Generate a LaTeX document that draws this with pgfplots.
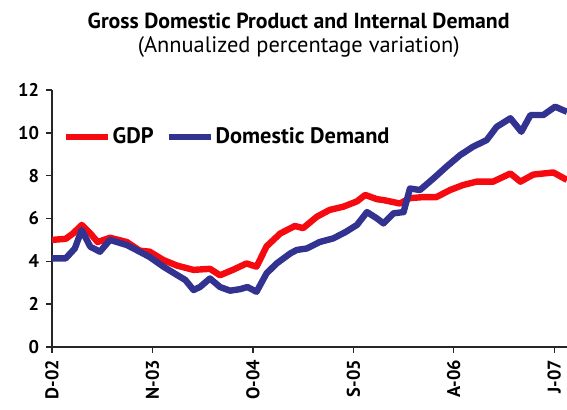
\documentclass[border=0pt]{standalone}
\usepackage{fontspec}
\setmainfont{PT Sans}
\usepackage{pgfplots}
\pgfplotsset{compat=1.18}

\definecolor{gdpred}{RGB}{245,10,15}
\definecolor{ddblue}{RGB}{50,50,145}

\begin{document}
\begin{tikzpicture}
\begin{axis}[
  scale only axis,
  width=257.5pt, height=128.5pt,
  xmin=0, xmax=56.4, ymin=0, ymax=12,
  axis lines*=left,
  axis line style={line width=0.7pt, black!85},
  tick align=outside,
  major tick length=3pt,
  tick style={line width=0.7pt, black!85},
  ytick={0,2,...,12},
  xtick={0,11,22,33,44,55},
  xticklabels={D-02,N-03,O-04,S-05,A-06,J-07},
  /pgf/number format/assume math mode=true,
  yticklabel style={font=\fontsize{9.2}{10}\selectfont\bfseries},
  xticklabel style={font=\fontsize{9.2}{10}\selectfont\bfseries, rotate=90, anchor=east},
  clip=false,
  legend style={draw=none, fill=none, at={(rel axis cs:0.02,0.817)}, anchor=west,
    font=\fontsize{11.2}{12}\selectfont\bfseries, inner sep=0pt,
    nodes={inner sep=1pt},
    /tikz/every even column/.append style={column sep=5pt}},
  legend columns=2,
  legend image code/.code={\draw[#1, line width=3pt] (0pt,0pt) -- (21pt,0pt);},
]
\addplot[gdpred, line width=3.2pt, line join=round] coordinates {
(0,5.0) (1.5,5.05) (2.3,5.3) (3.25,5.7) (4.2,5.3) (5,4.9) (6.35,5.1) (7.3,5.0)
(8.2,4.9) (9.6,4.5) (10.7,4.45) (12.2,4.06) (13.7,3.8) (15.5,3.6) (17.3,3.65)
(18.4,3.35) (19.8,3.6) (21.3,3.9) (22.4,3.75) (23.5,4.7) (25,5.3) (26.6,5.65)
(27.5,5.55) (29,6.08) (30.4,6.4) (31.9,6.55) (33.4,6.8) (34.3,7.1) (35.6,6.9)
(36.3,6.86) (38.1,6.7) (39.2,6.95) (40.7,7.0) (42.1,7.0) (43.6,7.33) (45,7.56)
(46.5,7.72) (48.3,7.72) (50.2,8.1) (51.3,7.72) (52.7,8.05) (54.9,8.15) (56.4,7.8)
};
\addlegendentry{GDP}
\addplot[ddblue, line width=3.2pt, line join=round] coordinates {
(0,4.14) (1.5,4.14) (2.5,4.6) (3.25,5.46) (4.2,4.68) (5.25,4.45) (6.35,5.0)
(8.2,4.76) (9.6,4.45) (10.7,4.2) (12.2,3.75) (13.7,3.36) (14.6,3.13) (15.5,2.66)
(16.2,2.8) (17.3,3.2) (18.4,2.8) (19.5,2.63) (20.6,2.7) (21.4,2.8) (22.4,2.58)
(23.5,3.44) (24.6,3.9) (26.1,4.37) (26.8,4.53) (27.9,4.6) (29.3,4.9) (30.8,5.07)
(32.2,5.38) (33.4,5.7) (34.5,6.3) (35.6,6.0) (36.3,5.77) (37.4,6.24) (38.5,6.3)
(39.2,7.4) (40.3,7.33) (41.8,7.88) (43.2,8.42) (44.7,8.96) (46.1,9.35) (47.6,9.66)
(48.7,10.28) (50.2,10.68) (51.4,10.05) (52.4,10.83) (53.8,10.83) (55.1,11.22) (56.4,10.98)
};
\addlegendentry{Domestic Demand}
\node[font=\fontsize{10.9}{12}\selectfont\bfseries, anchor=base] at ([yshift=30.5pt]rel axis cs:0.479,1) {Gross Domestic Product and Internal Demand};
\node[font=\fontsize{11.2}{12}\selectfont, anchor=base] at ([yshift=18.5pt]rel axis cs:0.479,1) {(Annualized percentage variation)};
\end{axis}
\pgfresetboundingbox
\path ([xshift=-26pt,yshift=-31.5pt]current axis.south west) rectangle ([yshift=45pt]current axis.north east);
\end{tikzpicture}
\end{document}
